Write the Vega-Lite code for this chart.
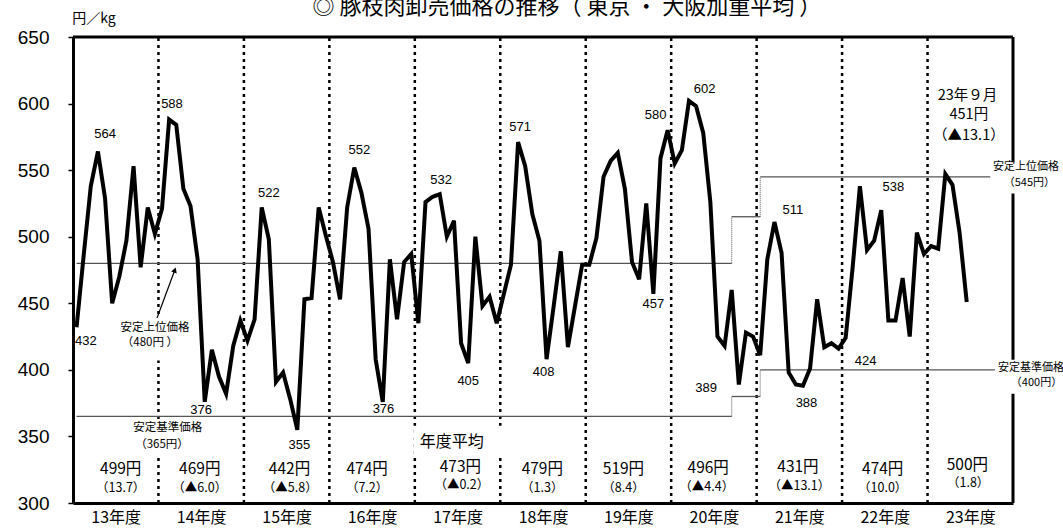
{
  "$schema": "https://vega.github.io/schema/vega-lite/v6.json",
  "width": 940,
  "height": 466,
  "autosize": {"type": "none"},
  "padding": {"left": 73, "top": 37, "right": 50, "bottom": 25},
  "background": "white",
  "config": {"view": {"stroke": null}, "font": "Noto Sans CJK JP"},
  "datasets": {
    "price": [
      {"i":0,"v":432},{"i":1,"v":486},{"i":2,"v":538},{"i":3,"v":564},{"i":4,"v":529},{"i":5,"v":450},{"i":6,"v":470},{"i":7,"v":497},{"i":8,"v":553},{"i":9,"v":477},{"i":10,"v":522},{"i":11,"v":502},
      {"i":12,"v":521},{"i":13,"v":588},{"i":14,"v":584},{"i":15,"v":536},{"i":16,"v":523},{"i":17,"v":483},{"i":18,"v":376},{"i":19,"v":415},{"i":20,"v":395},{"i":21,"v":382},{"i":22,"v":418},{"i":23,"v":437},
      {"i":24,"v":422},{"i":25,"v":438},{"i":26,"v":522},{"i":27,"v":498},{"i":28,"v":391},{"i":29,"v":398},{"i":30,"v":378},{"i":31,"v":355},{"i":32,"v":453},{"i":33,"v":454},{"i":34,"v":522},{"i":35,"v":501},
      {"i":36,"v":481},{"i":37,"v":453},{"i":38,"v":522},{"i":39,"v":552},{"i":40,"v":533},{"i":41,"v":506},{"i":42,"v":408},{"i":43,"v":376},{"i":44,"v":483},{"i":45,"v":438},{"i":46,"v":481},{"i":47,"v":487},
      {"i":48,"v":435},{"i":49,"v":526},{"i":50,"v":530},{"i":51,"v":532},{"i":52,"v":500},{"i":53,"v":512},{"i":54,"v":420},{"i":55,"v":405},{"i":56,"v":500},{"i":57,"v":448},{"i":58,"v":455},{"i":59,"v":435},
      {"i":60,"v":457},{"i":61,"v":479},{"i":62,"v":571},{"i":63,"v":553},{"i":64,"v":517},{"i":65,"v":497},{"i":66,"v":408},{"i":67,"v":448},{"i":68,"v":489},{"i":69,"v":417},{"i":70,"v":448},{"i":71,"v":479},
      {"i":72,"v":479},{"i":73,"v":499},{"i":74,"v":545},{"i":75,"v":557},{"i":76,"v":563},{"i":77,"v":536},{"i":78,"v":481},{"i":79,"v":468},{"i":80,"v":525},{"i":81,"v":457},{"i":82,"v":559},{"i":83,"v":580},
      {"i":84,"v":555},{"i":85,"v":565},{"i":86,"v":602},{"i":87,"v":598},{"i":88,"v":578},{"i":89,"v":526},{"i":90,"v":425},{"i":91,"v":418},{"i":92,"v":460},{"i":93,"v":389},{"i":94,"v":428},{"i":95,"v":425},
      {"i":96,"v":411},{"i":97,"v":483},{"i":98,"v":511},{"i":99,"v":488},{"i":100,"v":398},{"i":101,"v":389},{"i":102,"v":388},{"i":103,"v":401},{"i":104,"v":453},{"i":105,"v":417},{"i":106,"v":420},{"i":107,"v":416},
      {"i":108,"v":424},{"i":109,"v":478},{"i":110,"v":538},{"i":111,"v":490},{"i":112,"v":497},{"i":113,"v":520},{"i":114,"v":437},{"i":115,"v":437},{"i":116,"v":469},{"i":117,"v":425},{"i":118,"v":503},{"i":119,"v":487},
      {"i":120,"v":493},{"i":121,"v":491},{"i":122,"v":547},{"i":123,"v":539},{"i":124,"v":503},{"i":125,"v":451}
    ],
    "dividers": [
      {"i":11.5,"v":300,"v2":650},{"i":23.5,"v":300,"v2":650},{"i":35.5,"v":300,"v2":650},{"i":47.5,"v":300,"v2":650},{"i":59.5,"v":300,"v2":650},
      {"i":71.5,"v":300,"v2":650},{"i":83.5,"v":300,"v2":650},{"i":95.5,"v":300,"v2":650},{"i":107.5,"v":300,"v2":650},{"i":119.5,"v":300,"v2":650}
    ],
    "thrH": [
      {"i":0,"i2":92,"v":480},{"i":92,"i2":96,"v":515},{"i":96,"i2":129,"v":545},
      {"i":0,"i2":92,"v":365},{"i":92,"i2":96,"v":380},{"i":96,"i2":129,"v":400}
    ],
    "thrV": [
      {"i":92,"v":480,"v2":515},{"i":96,"v":515,"v2":545},{"i":92,"v":365,"v2":380},{"i":96,"v":380,"v2":400}
    ],
    "frameTop": [{"i":-0.5,"i2":131.5,"v":650}],
    "frameRight": [{"i":131.5,"v":300,"v2":650}],
    "boxes": [
      {"i":5.4,"i2":16.6,"v":441,"v2":407},
      {"i":7.2,"i2":18.7,"v":362,"v2":336},
      {"i":47.3,"i2":59.9,"v":358,"v2":335},
      {"i":128.3,"i2":140,"v":556,"v2":532.5},
      {"i":129,"i2":140,"v":407.5,"v2":382}
    ],
    "arrow": [{"i":11.3,"v":439,"i2":13.8,"v2":475}],
    "arrowHead": [{"i":13.8,"v":475}],
    "peaks": [
      {"i":1.3,"v":421.3,"t":"432"},{"i":4.0,"v":577,"t":"564"},{"i":13.4,"v":599.5,"t":"588"},{"i":17.5,"v":370,"t":"376"},
      {"i":27.0,"v":533,"t":"522"},{"i":31.3,"v":343.8,"t":"355"},{"i":39.7,"v":565,"t":"552"},{"i":43.1,"v":370.5,"t":"376"},
      {"i":51.2,"v":542.5,"t":"532"},{"i":55.0,"v":391.8,"t":"405"},{"i":62.3,"v":582.5,"t":"571"},{"i":65.6,"v":398.3,"t":"408"},
      {"i":81.3,"v":591.3,"t":"580"},{"i":81.0,"v":449.3,"t":"457"},{"i":88.2,"v":611.3,"t":"602"},{"i":88.4,"v":386.3,"t":"389"},
      {"i":100.6,"v":520,"t":"511"},{"i":102.5,"v":375,"t":"388"},{"i":110.8,"v":406.3,"t":"424"},{"i":114.7,"v":537.5,"t":"538"}
    ],
    "leftNotes": [
      {"i":11.0,"v":431.5,"t":"安定上位価格"},{"i":10.3,"v":420,"t":"（480円 ）"},
      {"i":12.8,"v":356.5,"t":"安定基準価格"},{"i":12.0,"v":343.7,"t":"（365円）"}
    ],
    "rightNotes": [
      {"i":128.7,"v":552.5,"t":"安定上位価格"},{"i":130.2,"v":540.5,"t":"（545円）"},
      {"i":129.4,"v":401.7,"t":"安定基準価格"},{"i":131.2,"v":390,"t":"（400円）"}
    ],
    "avg1": [
      {"i":6.2,"v":325.5,"t":"499円"},{"i":17.3,"v":325.5,"t":"469円"},{"i":29.9,"v":325.5,"t":"442円"},{"i":40.8,"v":325.5,"t":"474円"},
      {"i":53.9,"v":327.3,"t":"473円"},{"i":65.4,"v":325.5,"t":"479円"},{"i":76.8,"v":325.5,"t":"519円"},{"i":88.7,"v":326,"t":"496円"},
      {"i":101.3,"v":327,"t":"431円"},{"i":113.2,"v":325.5,"t":"474円"},{"i":125.1,"v":328.8,"t":"500円"}
    ],
    "avg2": [
      {"i":6.2,"v":311,"t":"（13.7）"},{"i":17.3,"v":311,"t":"（▲6.0）"},{"i":30.0,"v":311,"t":"（▲5.8）"},{"i":40.8,"v":311,"t":"（7.2）"},
      {"i":54.1,"v":313.3,"t":"（▲0.2）"},{"i":65.4,"v":311,"t":"（1.3）"},{"i":76.8,"v":311,"t":"（8.4）"},{"i":88.5,"v":312,"t":"（▲4.4）"},
      {"i":101.5,"v":312.5,"t":"（▲13.1）"},{"i":113.2,"v":311,"t":"（10.0）"},{"i":125.2,"v":314.8,"t":"（1.8）"}
    ],
    "latest": [
      {"i":125.1,"v":605.5,"t":"23年９月"},{"i":125.3,"v":591.3,"t":"451円"},{"i":125.3,"v":576,"t":"（▲13.1）"}
    ],
    "heads": [
      {"i":68.85,"v":672.5,"t":"◎ 豚枝肉卸売価格の推移（ 東京 ・ 大阪加重平均 ）","k":"title"},
      {"i":52.7,"v":346,"t":"年度平均","k":"avg"}
    ],
    "unit": [{"i":-0.6,"v":663.8,"t":"円／kg"}]
  },
  "encoding": {
    "x": {
      "field": "i", "type": "quantitative",
      "scale": {"domain": [-0.5, 131.5], "nice": false, "zero": false},
      "axis": {
        "title": null, "grid": false, "ticks": false,
        "values": [5.5,17.5,29.5,41.5,53.5,65.5,77.5,89.5,101.5,113.5,125.5],
        "labelExpr": "(floor(datum.value/12)+13) + '年度'",
        "labelFont": "Noto Sans CJK JP", "labelFontSize": 16, "labelColor": "black",
        "labelPadding": 6, "labelOverlap": false, "labelFlush": false,
        "domainColor": "black", "domainWidth": 3
      }
    },
    "y": {
      "field": "v", "type": "quantitative",
      "scale": {"domain": [300, 650], "nice": false, "zero": false},
      "axis": {
        "title": null, "grid": false,
        "values": [300,350,400,450,500,550,600,650],
        "labelFont": "Liberation Sans", "labelFontSize": 19, "labelColor": "black",
        "labelPadding": 19, "tickSize": 5, "tickColor": "black", "tickWidth": 1.5,
        "domainColor": "black", "domainWidth": 3
      }
    }
  },
  "layer": [
    {"data": {"name": "dividers"}, "mark": {"type": "rule", "color": "black", "strokeWidth": 2.5, "strokeDash": [3, 4]}, "encoding": {"y2": {"field": "v2"}}},
    {"data": {"name": "thrH"}, "mark": {"type": "rule", "color": "#555555", "strokeWidth": 1.3}, "encoding": {"x2": {"field": "i2"}}},
    {"data": {"name": "thrV"}, "mark": {"type": "rule", "color": "#555555", "strokeWidth": 1, "strokeDash": [1, 1]}, "encoding": {"y2": {"field": "v2"}}},
    {"data": {"name": "frameTop"}, "mark": {"type": "rule", "color": "black", "strokeWidth": 3}, "encoding": {"x2": {"field": "i2"}}},
    {"data": {"name": "frameRight"}, "mark": {"type": "rule", "color": "black", "strokeWidth": 3}, "encoding": {"y2": {"field": "v2"}}},
    {"data": {"name": "boxes"}, "mark": {"type": "rect", "color": "white"}, "encoding": {"x2": {"field": "i2"}, "y2": {"field": "v2"}}},
    {"data": {"name": "arrow"}, "mark": {"type": "rule", "color": "black", "strokeWidth": 1.2}, "encoding": {"x2": {"field": "i2"}, "y2": {"field": "v2"}}},
    {"data": {"name": "arrowHead"}, "mark": {"type": "point", "shape": "triangle-up", "filled": true, "color": "black", "size": 35, "angle": 20, "opacity": 1}},
    {"data": {"name": "price"}, "mark": {"type": "line", "color": "black", "strokeWidth": 4}},
    {"data": {"name": "peaks"}, "mark": {"type": "text", "font": "Liberation Sans", "fontSize": 13, "color": "black", "align": "center", "baseline": "middle"}, "encoding": {"text": {"field": "t"}}},
    {"data": {"name": "leftNotes"}, "mark": {"type": "text", "fontSize": 11.5, "color": "black", "align": "center", "baseline": "middle"}, "encoding": {"text": {"field": "t"}}},
    {"data": {"name": "rightNotes"}, "mark": {"type": "text", "fontSize": 11, "color": "black", "align": "left", "baseline": "middle"}, "encoding": {"text": {"field": "t"}}},
    {"data": {"name": "avg1"}, "mark": {"type": "text", "fontSize": 15.5, "color": "black", "align": "center", "baseline": "middle"}, "encoding": {"text": {"field": "t"}}},
    {"data": {"name": "avg2"}, "mark": {"type": "text", "fontSize": 12.5, "color": "black", "align": "center", "baseline": "middle"}, "encoding": {"text": {"field": "t"}}},
    {"data": {"name": "latest"}, "mark": {"type": "text", "fontSize": 14.5, "color": "black", "align": "center", "baseline": "middle"}, "encoding": {"text": {"field": "t"}}},
    {"data": {"name": "heads"}, "mark": {"type": "text", "color": "black", "align": "center", "baseline": "middle"}, "encoding": {"text": {"field": "t"}, "size": {"field": "k", "type": "nominal", "scale": {"domain": ["title", "avg"], "range": [22, 16]}, "legend": null}}},
    {"data": {"name": "unit"}, "mark": {"type": "text", "fontSize": 14, "color": "black", "align": "left", "baseline": "middle"}, "encoding": {"text": {"field": "t"}}}
  ]
}
